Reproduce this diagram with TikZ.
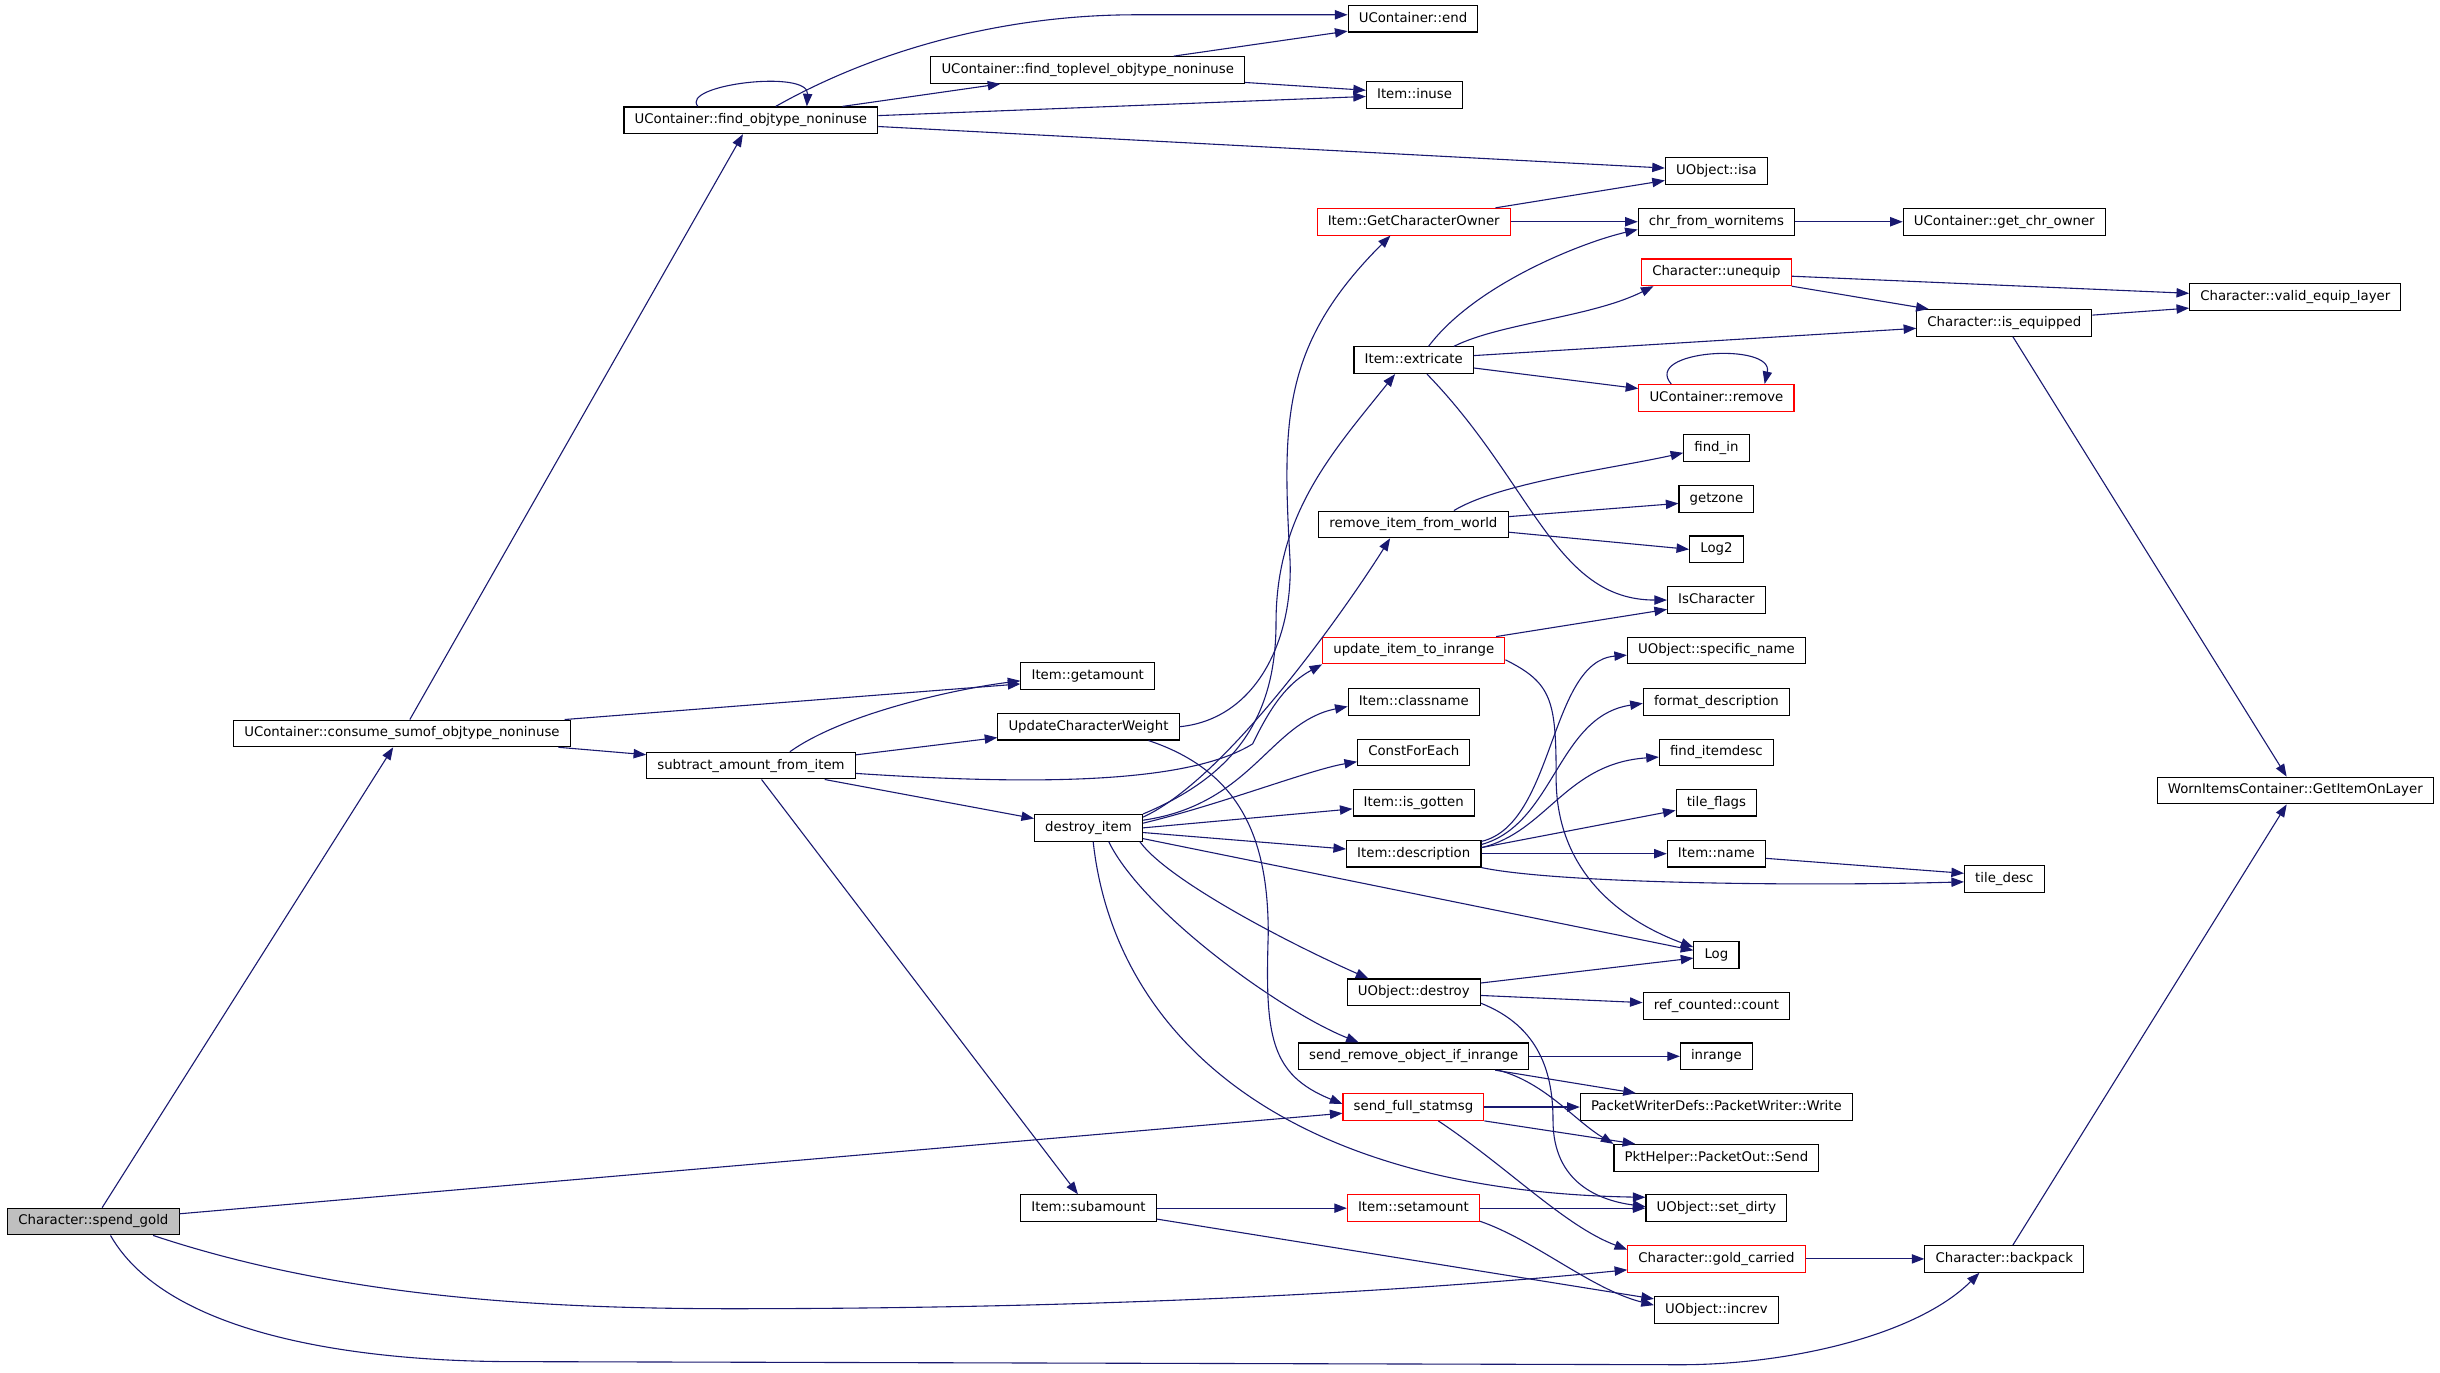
\documentclass[tikz,border=0pt]{standalone}
\usepackage{fontspec}
\setmainfont{DejaVu Sans}
\usepackage{tikz}
\usetikzlibrary{calc,positioning,arrows.meta}
\definecolor{edgeblue}{RGB}{25,25,112}
\definecolor{rootgray}{RGB}{191,191,191}

\begin{document}
\begin{tikzpicture}[x=0.02cm,y=-0.02cm,
	fn/.style={draw=black,line width=0.4pt,fill=white,rectangle,inner xsep=3.9pt,inner ysep=0pt,
		minimum height=9.75pt,text height=3.7pt,text depth=1.2pt,font=\fontsize{4.86}{5.8}\selectfont},
	fnred/.style={fn,draw=red},
	fnroot/.style={fn,fill=rootgray},
	call/.style={draw=edgeblue,line width=0.4pt,-{Triangle[length=4.6pt,width=3.4pt]}}]
			\fill[white,use as bounding box] (0,0) rectangle (1568,882);
			\node[fnroot] (spend) at (60,785) {Character::spend\_gold};
			\node[fn] (consume) at (258.3,471.3) {UContainer::consume\_sumof\_objtype\_noninuse};
			\node[fn] (findobj) at (482.5,77.3) {UContainer::find\_objtype\_noninuse};
			\node[fn] (findtop) at (699,45) {UContainer::find\_toplevel\_objtype\_noninuse};
			\node[fn] (cend) at (908,12) {UContainer::end};
			\node[fn] (inuse) at (909,61) {Item::inuse};
			\node[fn] (isa) at (1103,110) {UObject::isa};
			\node[fnred] (getowner) at (908.5,142.5) {Item::GetCharacterOwner};
			\node[fn] (chrworn) at (1103,142.5) {chr\_from\_wornitems};
			\node[fn] (getchr) at (1288,142.5) {UContainer::get\_chr\_owner};
			\node[fnred] (unequip) at (1103,175) {Character::unequip};
			\node[fn] (validlayer) at (1475,191) {Character::valid\_equip\_layer};
			\node[fn] (isequip) at (1288,207.5) {Character::is\_equipped};
			\node[fn] (extricate) at (908.5,231.5) {Item::extricate};
			\node[fnred] (remove) at (1103,255.7) {UContainer::remove};
			\node[fn] (findin) at (1103,288) {find\_in};
			\node[fn] (getzone) at (1103,320.5) {getzone};
			\node[fn] (logtwo) at (1103,353) {Log2};
			\node[fn] (removeworld) at (908.3,337) {remove\_item\_from\_world};
			\node[fn] (ischar) at (1103,385.6) {IsCharacter};
			\node[fnred] (updinrange) at (908.5,418) {update\_item\_to\_inrange};
			\node[fn] (specname) at (1103,418) {UObject::specific\_name};
			\node[fn] (getamount) at (699,434.5) {Item::getamount};
			\node[fn] (classname) at (908.5,451) {Item::classname};
			\node[fn] (formatdesc) at (1103,451) {format\_description};
			\node[fn] (updweight) at (699.5,467) {UpdateCharacterWeight};
			\node[fn] (constfor) at (908.5,483.5) {ConstForEach};
			\node[fn] (finditemdesc) at (1103,483.5) {find\_itemdesc};
			\node[fn] (subtract) at (482.6,492) {subtract\_amount\_from\_item};
			\node[fn] (getlayer) at (1475,508) {WornItemsContainer::GetItemOnLayer};
			\node[fn] (isgotten) at (908.5,515.8) {Item::is\_gotten};
			\node[fn] (tileflags) at (1103,515.8) {tile\_flags};
			\node[fn] (destroyitem) at (699.5,532) {destroy\_item};
			\node[fn] (description) at (908.5,548.6) {Item::description};
			\node[fn] (itemname) at (1103,548.6) {Item::name};
			\node[fn] (tiledesc) at (1288,564.7) {tile\_desc};
			\node[fn] (log) at (1103,613.7) {Log};
			\node[fn] (uobjdestroy) at (908.5,637.7) {UObject::destroy};
			\node[fn] (refcount) at (1103,646.3) {ref\_counted::count};
			\node[fn] (sendremove) at (908.5,678.8) {send\_remove\_object\_if\_inrange};
			\node[fn] (inrange) at (1103,678.8) {inrange};
			\node[fnred] (fullstat) at (908.3,711.4) {send\_full\_statmsg};
			\node[fn] (pwrite) at (1103,711.4) {PacketWriterDefs::PacketWriter::Write};
			\node[fn] (psend) at (1103,744) {PktHelper::PacketOut::Send};
			\node[fn] (subamount) at (699.5,776.4) {Item::subamount};
			\node[fnred] (setamount) at (908.3,776.4) {Item::setamount};
			\node[fn] (setdirty) at (1103,776.4) {UObject::set\_dirty};
			\node[fnred] (goldcarried) at (1103,809) {Character::gold\_carried};
			\node[fn] (backpack) at (1288,809) {Character::backpack};
			\node[fn] (increv) at (1103,841.7) {UObject::increv};

			\draw[call] (spend) -- (consume);
			\draw[call] ($(spend.east)+(0,-5)$) -- ($(fullstat.west)+(0,4)$);
			\draw[call] ($(spend.south east)+(-17,0)$) .. controls +(120,40) and +(-120,0) .. (470,841)
				.. controls +(300,0) and +(-80,8) .. ($(goldcarried.west)+(0,7)$);
			\draw[call] ($(spend.south)+(11,0)$) .. controls +(40,70) and +(-80,0) .. (330,875) -- (1080,877)
				.. controls +(70,0) and +(-40,40) .. ($(backpack.south)+(-16,0)$);

			\draw[call] (consume) -- (findobj);
			\draw[call] ($(consume.north east)+(-4,0)$) -- ($(getamount.west)+(0,5)$);
			\draw[call] ($(consume.south east)+(-8,0)$) -- ($(subtract.west)+(0,-7)$);

			\draw[call] ($(findobj.north)+(-34,0)$) .. controls +(-12,-14) and +(1.5,-24) .. ($(findobj.north)+(36,0)$);
			\draw[call] ($(findobj.north)+(16,0)$) .. controls +(60,-34) and +(-90,0) .. (730,9.5) -- ($(cend.west)+(0,-2.5)$);
			\draw[call] ($(findobj.north east)+(-23,0)$) -- ($(findtop.south west)+(45,0)$);
			\draw[call] ($(findobj.east)+(0,-3)$) -- ($(inuse.west)+(0,1)$);
			\draw[call] ($(findobj.east)+(0,4)$) -- ($(isa.west)+(0,-2)$);
			\draw[call] ($(findtop.north east)+(-46,0)$) -- ($(cend.west)+(0,8)$);
			\draw[call] ($(findtop.east)+(0,8)$) -- ($(inuse.west)+(0,-3)$);

			\draw[call] ($(subtract.north)+(25,0)$) .. controls +(35,-25) and +(-40,5) .. ($(getamount.west)+(0,3)$);
			\draw[call] ($(subtract.north east)+(0,2)$) -- ($(updweight.west)+(0,7)$);
			\draw[call] ($(subtract.south east)+(-20,0)$) -- ($(destroyitem.west)+(0,-6)$);
			\draw[call] (subtract) -- (subamount);
			\draw[call] ($(subtract.east)+(0,5)$) .. controls +(120,8) and +(-40,25) .. (805,478)
				.. controls +(12,-25) and +(-22,12) .. (updinrange.south west);

			\draw[call] (updweight.east) .. controls +(50,-5) and +(2,50) .. (829,360)
				.. controls +(-5,-90) and +(-70,70) .. ($(getowner.south)+(-15,0)$);
			\draw[call] ($(updweight.south east)+(-20,0)$) .. controls +(60,20) and +(0,-60) .. (815,600)
				.. controls +(-2,65) and +(-47,-19) .. ($(fullstat.west)+(0,-2)$);

			\draw[call] (destroyitem.north east) .. controls +(60,-25) and +(0,60) .. (820,400)
				.. controls +(0,-70) and +(-40,50) .. ($(extricate.south)+(-12,0)$);
			\draw[call] ($(destroyitem.north east)+(0,2)$) .. controls +(55,-25) and +(-25,40) .. ($(removeworld.south)+(-15,0)$);
			\draw[call] ($(destroyitem.north east)+(0,4)$) .. controls +(70,-10) and +(-50,10) .. ($(classname.west)+(0,3)$);
			\draw[call] ($(destroyitem.east)+(0,-3)$) .. controls +(50,-12) and +(-30,5) .. ($(constfor.west)+(0,6)$);
			\draw[call] (destroyitem.east) -- ($(isgotten.west)+(0,4)$);
			\draw[call] ($(destroyitem.east)+(0,3)$) -- ($(description.west)+(0,-3)$);
			\draw[call] ($(destroyitem.south east)+(0,-2)$) -- ($(log.west)+(0,-3)$);
			\draw[call] ($(destroyitem.south east)+(-2,0)$) .. controls +(18,25) and +(-50,-22) .. ($(uobjdestroy.north west)+(14,0)$);
			\draw[call] ($(destroyitem.south)+(13,0)$) .. controls +(22,45) and +(-50,-20) .. ($(sendremove.north west)+(39,0)$);
			\draw[call] ($(destroyitem.south)+(3,0)$) .. controls +(13,120) and +(-238,-4) .. ($(setdirty.west)+(0,-7)$);

			\draw[call] ($(getowner.north east)+(-10,0)$) -- ($(isa.west)+(0,6)$);
			\draw[call] (getowner) -- (chrworn);
			\draw[call] (chrworn) -- (getchr);

			\draw[call] ($(extricate.north)+(9.5,0)$) .. controls +(30,-40) and +(-35,8) .. ($(chrworn.west)+(0,5)$);
			\draw[call] ($(extricate.north east)+(-13,0)$) .. controls +(30,-15) and +(-40,20) .. ($(unequip.south west)+(8,0)$);
			\draw[call] ($(extricate.east)+(0,-3)$) -- ($(isequip.west)+(0,3.5)$);
			\draw[call] ($(extricate.east)+(0,5)$) -- ($(remove.west)+(0,-6)$);
			\draw[call] ($(extricate.south)+(8.5,0)$) .. controls +(68,70) and +(-72,0) .. (ischar.west);

			\draw[call] ($(unequip.east)+(0,2.5)$) -- ($(validlayer.west)+(0,-2.5)$);
			\draw[call] (unequip.south east) -- ($(isequip.north west)+(8,0)$);
			\draw[call] ($(isequip.east)+(0,-5)$) -- ($(validlayer.west)+(0,7)$);
			\draw[call] (isequip) -- (getlayer);
			\draw[call] ($(remove.north)+(-29,0)$) .. controls +(-19,-22) and +(6,-27) .. ($(remove.north)+(31,0)$);

			\draw[call] ($(removeworld.north)+(26,0)$) .. controls +(30,-18) and +(-45,10) .. ($(findin.west)+(0,3)$);
			\draw[call] ($(removeworld.east)+(0,-5)$) -- ($(getzone.west)+(0,3)$);
			\draw[call] ($(removeworld.east)+(0,5)$) -- (logtwo.west);

			\draw[call] ($(updinrange.north east)+(-6,0)$) -- ($(ischar.west)+(0,6)$);
			\draw[call] ($(updinrange.east)+(0,6)$) .. controls +(30,15) and +(0,-50) .. (1000,500)
				.. controls +(0,65) and +(-40,-15) .. ($(log.west)+(0,-5)$);

			\draw[call] ($(description.north east)+(0,1)$) .. controls +(47,-11) and +(-50,4) .. ($(specname.west)+(0,3)$);
			\draw[call] ($(description.north east)+(0,3)$) .. controls +(47,-13) and +(-55,8) .. ($(formatdesc.west)+(0,1)$);
			\draw[call] ($(description.north east)+(0,5)$) .. controls +(42,-10) and +(-60,4) .. ($(finditemdesc.west)+(0,3)$);
			\draw[call] ($(description.north east)+(0,5)$) -- ($(tileflags.west)+(0,5)$);
			\draw[call] (description) -- (itemname);
			\draw[call] (description.south east) .. controls +(47,10) and +(-110,3) .. ($(tiledesc.west)+(0,2)$);
			\draw[call] ($(itemname.east)+(0,3)$) -- ($(tiledesc.west)+(0,-3.5)$);

			\draw[call] ($(uobjdestroy.east)+(0,-6)$) -- ($(log.west)+(0,2)$);
			\draw[call] ($(uobjdestroy.east)+(0,2)$) -- ($(refcount.west)+(0,-2)$);
			\draw[call] ($(uobjdestroy.east)+(0,7)$) .. controls +(38,15) and +(0,-30) .. (998,720)
				.. controls +(0,40) and +(-30,-4) .. ($(setdirty.west)+(0,-1)$);

			\draw[call] (sendremove) -- (inrange);
			\draw[call] ($(sendremove.south east)+(-22,0)$) -- ($(pwrite.north west)+(36,0)$);
			\draw[call] ($(sendremove.south east)+(-20,0)$) .. controls +(30,8) and +(-25,-15) .. (psend.north west);

			\draw[call] (fullstat) -- (pwrite);
			\draw[call] (fullstat.south east) -- ($(psend.north west)+(14,0)$);
			\draw[call] ($(fullstat.south)+(16,0)$) .. controls +(45,30) and +(-40,-15) .. ($(goldcarried.west)+(0,-6)$);

			\draw[call] (subamount) -- (setamount);
			\draw[call] ($(subamount.east)+(0,7)$) -- ($(increv.west)+(0,-7)$);
			\draw[call] (setamount) -- (setdirty);
			\draw[call] ($(setamount.south east)+(0,-0.5)$) .. controls +(35,12) and +(-40,-10) .. ($(increv.west)+(0,-3)$);
			\draw[call] (goldcarried) -- (backpack);
			\draw[call] (backpack) -- (getlayer);
		\end{tikzpicture}
\end{document}
